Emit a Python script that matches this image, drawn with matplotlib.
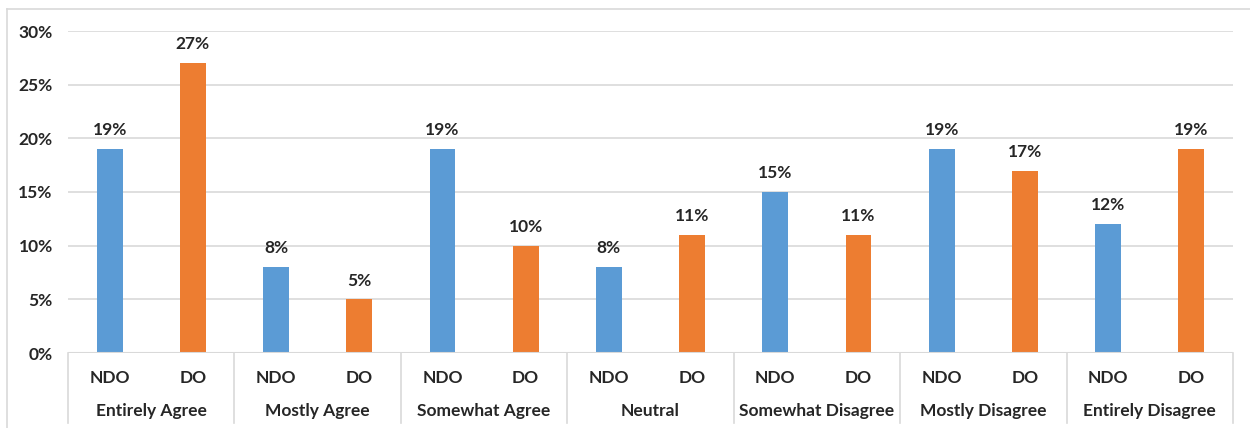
import matplotlib.pyplot as plt
from matplotlib.lines import Line2D

# survey answers, two groups per answer
groups = ['Entirely Agree', 'Mostly Agree', 'Somewhat Agree', 'Neutral',
          'Somewhat Disagree', 'Mostly Disagree', 'Entirely Disagree']
series = ['NDO', 'DO']
ndo = [19, 8, 19, 8, 15, 19, 12]
do = [27, 5, 10, 11, 11, 17, 19]
yticks = [0, 5, 10, 15, 20, 25, 30]

blue = '#5b9bd5'
orange = '#ed7d31'
grid_col = '#d9d9d9'
txt_col = '#262626'
fnt = 'Lato'
fs = 12.5

fig = plt.figure(figsize=(12.5, 4.28), dpi=100)
# light chart border (top and left visible)
fig.add_artist(Line2D([7/1250, 1], [1 - 9/428, 1 - 9/428], transform=fig.transFigure,
                      color=grid_col, lw=1.2))
fig.add_artist(Line2D([7/1250, 7/1250], [0, 1 - 9/428], transform=fig.transFigure,
                      color=grid_col, lw=1.2))

ax = fig.add_axes([68/1250, 75/428, (1233 - 68)/1250, 322/428])

xs_ndo = [2*i + 0.5 for i in range(len(groups))]
xs_do = [2*i + 1.5 for i in range(len(groups))]
w = 0.31
b1 = ax.bar(xs_ndo, ndo, width=w, color=blue, zorder=3)
b2 = ax.bar(xs_do, do, width=w, color=orange, zorder=3)

for bars, vals in ((b1, ndo), (b2, do)):
    for b, v in zip(bars, vals):
        ax.text(b.get_x() + b.get_width()/2, v + 1.0, f'{v}%', ha='center', va='bottom',
                fontsize=fs, fontweight='bold', family=fnt, color=txt_col)

ax.set_xlim(0, 2*len(groups))
ax.set_ylim(0, 30)
ax.set_yticks(yticks)
ax.set_yticklabels([f'{t}%' for t in yticks], fontsize=fs, fontweight='bold',
                   family=fnt, color=txt_col)
ax.tick_params(axis='y', length=0, pad=11)
ax.set_xticks([])
for t in yticks[1:]:
    ax.axhline(t, color=grid_col, lw=1.2, zorder=1)
ax.axhline(0, color=grid_col, lw=1.5, zorder=4)
for s in ax.spines.values():
    s.set_visible(False)

trans = ax.get_xaxis_transform()
for i in range(len(groups) + 1):
    ax.add_line(Line2D([2*i, 2*i], [0, -0.217], transform=trans, color=grid_col,
                       lw=1.2, clip_on=False))
for i, g in enumerate(groups):
    ax.text(2*i + 0.5, -0.078, series[0], transform=trans, ha='center', va='center',
            fontsize=fs, fontweight='bold', family=fnt, color=txt_col)
    ax.text(2*i + 1.5, -0.078, series[1], transform=trans, ha='center', va='center',
            fontsize=fs, fontweight='bold', family=fnt, color=txt_col)
    ax.text(2*i + 1, -0.181, g, transform=trans, ha='center', va='center',
            fontsize=fs, fontweight='bold', family=fnt, color=txt_col)

fig.savefig('out.png', dpi=100)
